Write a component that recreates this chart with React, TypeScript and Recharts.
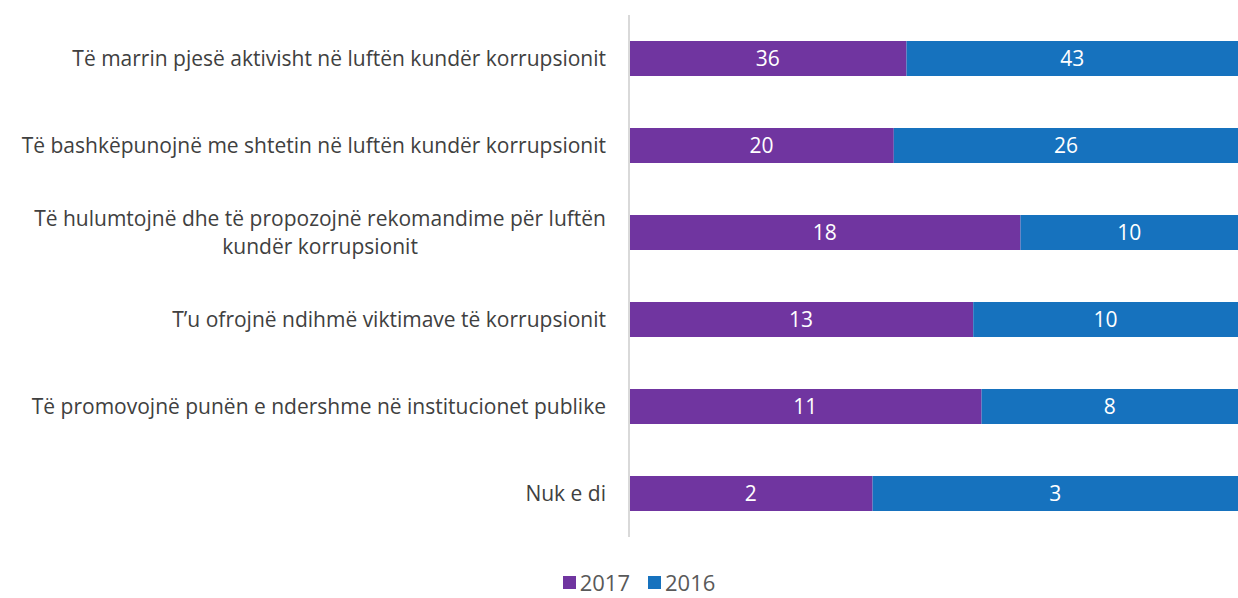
import { Bar, BarChart, LabelList, Legend, XAxis, YAxis } from "recharts";

const categories = [
  "Të marrin pjesë aktivisht në luftën kundër korrupsionit",
  "Të bashkëpunojnë me shtetin në luftën kundër korrupsionit",
  "Të hulumtojnë dhe të propozojnë rekomandime për luftën\nkundër korrupsionit",
  "T’u ofrojnë ndihmë viktimave të korrupsionit",
  "Të promovojnë punën e ndershme në institucionet publike",
  "Nuk e di",
];
const values2017 = [36, 20, 18, 13, 11, 2];
const values2016 = [43, 26, 10, 10, 8, 3];

const PURPLE = "#7035a0";
const BLUE = "#1672be";
const FONT = "'Open Sans', 'Noto Sans', sans-serif";
const FS = 21;

const data = categories.map((name, i) => ({
  name,
  v2017: values2017[i],
  v2016: values2016[i],
}));

function measure(text: string, size: number) {
  const c = document.createElement("canvas").getContext("2d");
  if (!c) return text.length * size * 0.5;
  c.font = `${size}px ${FONT}`;
  return c.measureText(text).width;
}

function CategoryTick(props: any) {
  const { x, y, payload } = props;
  const lines = String(payload.value).split("\n");
  const right = x - 15;
  if (lines.length === 1) {
    return (
      <text x={right} y={y} dy="0.35em" textAnchor="end" fill="#404040" fontSize={FS} fontFamily={FONT}>
        {lines[0]}
      </text>
    );
  }
  const w = measure(lines[0], FS);
  const mid = right - w / 2;
  return (
    <text fill="#404040" fontSize={FS} fontFamily={FONT} textAnchor="middle">
      {lines.map((l, i) => (
        <tspan key={i} x={mid} y={y + (i - (lines.length - 1) / 2) * 28} dy="0.35em">
          {l}
        </tspan>
      ))}
    </text>
  );
}

function LegendContent() {
  const items = [
    { label: "2017", color: PURPLE },
    { label: "2016", color: BLUE },
  ];
  return (
    <div style={{ display: "flex", justifyContent: "center", gap: 18, fontFamily: FONT, fontSize: 22, color: "#595959", paddingLeft: 40, lineHeight: "30px" }}>
      {items.map((it) => (
        <span key={it.label} style={{ display: "flex", alignItems: "center" }}>
          <span style={{ width: 13, height: 13, background: it.color, marginRight: 4, display: "inline-block" }} />
          {it.label}
        </span>
      ))}
    </div>
  );
}

export default function App() {
  return (
    <div style={{ position: "absolute", left: 0, top: 0, width: 1238, height: 598, background: "#fff" }}>
      <BarChart
        width={1238}
        height={598}
        data={data}
        layout="vertical"
        stackOffset="expand"
        barCategoryGap={0}
        margin={{ top: 15, right: 0, bottom: 31, left: 0 }}
      >
        <XAxis type="number" hide domain={[0, 1]} />
        <YAxis
          type="category"
          dataKey="name"
          width={629}
          axisLine={{ stroke: "#d9d9d9", strokeWidth: 2 }}
          tickLine={false}
          tick={<CategoryTick />}
          interval={0}
        />
        <Legend verticalAlign="bottom" wrapperStyle={{ bottom: 1 }} content={<LegendContent />} />
        <Bar dataKey="v2017" stackId="a" fill={PURPLE} barSize={35} isAnimationActive={false}>
          <LabelList dataKey="v2017" position="center" fill="#fff" fontSize={FS} fontFamily={FONT} />
        </Bar>
        <Bar dataKey="v2016" stackId="a" fill={BLUE} barSize={35} isAnimationActive={false}>
          <LabelList dataKey="v2016" position="center" fill="#fff" fontSize={FS} fontFamily={FONT} />
        </Bar>
      </BarChart>
    </div>
  );
}
